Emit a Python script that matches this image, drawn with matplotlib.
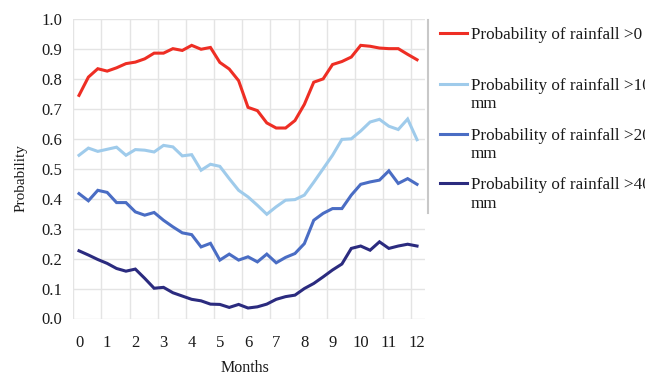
import numpy as np
import matplotlib
matplotlib.use("Agg")
import matplotlib.pyplot as plt
from matplotlib.lines import Line2D

# dekadal steps, 0..12 months
months = np.arange(37) / 3.0

p_gt0 = [0.745, 0.806, 0.834, 0.826, 0.837, 0.851, 0.856, 0.867, 0.886, 0.886, 0.901, 0.895, 0.912,
         0.899, 0.905, 0.855, 0.833, 0.794, 0.705, 0.694, 0.653, 0.636, 0.636, 0.661, 0.715,
         0.789, 0.800, 0.848, 0.858, 0.873, 0.912, 0.909, 0.903, 0.901, 0.901, 0.882, 0.864]
p_gt100 = [0.545, 0.569, 0.558, 0.565, 0.572, 0.545, 0.564, 0.562, 0.556, 0.578, 0.573, 0.543, 0.547,
           0.495, 0.515, 0.508, 0.467, 0.428, 0.406, 0.378, 0.348, 0.373, 0.395, 0.397, 0.412,
           0.455, 0.500, 0.545, 0.598, 0.600, 0.626, 0.656, 0.665, 0.642, 0.631, 0.666, 0.597]
p_gt200 = [0.417, 0.393, 0.428, 0.421, 0.387, 0.387, 0.356, 0.345, 0.354, 0.328, 0.306, 0.286, 0.280,
           0.239, 0.251, 0.195, 0.215, 0.195, 0.206, 0.189, 0.215, 0.186, 0.204, 0.217, 0.250,
           0.328, 0.351, 0.367, 0.367, 0.412, 0.448, 0.456, 0.462, 0.493, 0.451, 0.467, 0.448]
p_gt400 = [0.226, 0.212, 0.197, 0.184, 0.167, 0.158, 0.165, 0.134, 0.101, 0.104, 0.086, 0.075, 0.064,
           0.059, 0.048, 0.047, 0.037, 0.047, 0.035, 0.039, 0.048, 0.064, 0.073, 0.078, 0.100,
           0.117, 0.139, 0.162, 0.182, 0.234, 0.242, 0.228, 0.256, 0.234, 0.242, 0.248, 0.242]

series = [p_gt0, p_gt100, p_gt200, p_gt400]
labels = ["Probability of rainfall >0",
          "Probability of rainfall >100\nmm",
          "Probability of rainfall >200\nmm",
          "Probability of rainfall >400\nmm"]
colors = ["#ee2e24", "#9fcbeb", "#4a6dc4", "#2b2b7f"]

x_ticks = list(range(13))
y_ticks = [i / 10 for i in range(11)]

plt.rcParams["font.family"] = ["Liberation Serif", "DejaVu Serif"]

W, H = 645, 380
fig = plt.figure(figsize=(W / 100, H / 100), dpi=100)
ax = fig.add_axes([73 / W, 1 - 318.5 / H, (425 - 73) / W, (318.5 - 19) / H])

for vals, lab, col in zip(series, labels, colors):
    ax.plot(months, vals, color=col, lw=2.2, label=lab, solid_joinstyle="miter")

ax.set_xlim(-0.213, 12.283)
ax.set_ylim(0, 1.0)
ax.set_xticks(x_ticks)
ax.set_xticks([t - 0.205 for t in x_ticks], minor=True)
ax.set_yticks(y_ticks)
ax.set_yticklabels(["%.1f" % v for v in y_ticks])
ax.tick_params(axis="both", which="both", length=0, labelsize=12, colors="#1a1a1a")
ax.tick_params(axis="y", pad=8)
ax.tick_params(axis="x", pad=12)
ax.grid(True, axis="y", which="major", color="#e4e4e4", lw=1.0)
ax.grid(True, axis="x", which="minor", color="#e4e4e4", lw=1.0)
ax.set_axisbelow(True)
for s in ax.spines.values():
    s.set_visible(False)

ax.set_xlabel("Months", fontsize=11.5, color="#1a1a1a")
ax.xaxis.set_label_coords(0.49, -0.14)
ax.set_ylabel("Probability", fontsize=11, color="#1a1a1a")
ax.yaxis.set_label_coords(-0.128, 0.47)

# legend drawn by hand so the line sits beside the first text row
fig.add_artist(Line2D([427.5 / W, 427.5 / W], [1 - 20 / H, 1 - 213 / H], color="#c8c8c8", lw=1.5))
row_y = [33.3, 84, 134, 183]
for y0, lab, col in zip(row_y, labels, colors):
    fig.add_artist(Line2D([440 / W, 467 / W], [1 - y0 / H, 1 - y0 / H], color=col, lw=2.2))
    for j, part in enumerate(lab.split("\n")):
        fig.text(471 / W, 1 - (y0 + 6 + 18.5 * j) / H, part, fontsize=12.3,
                 va="baseline", ha="left", color="#1a1a1a")

fig.savefig("out.png", dpi=100)
